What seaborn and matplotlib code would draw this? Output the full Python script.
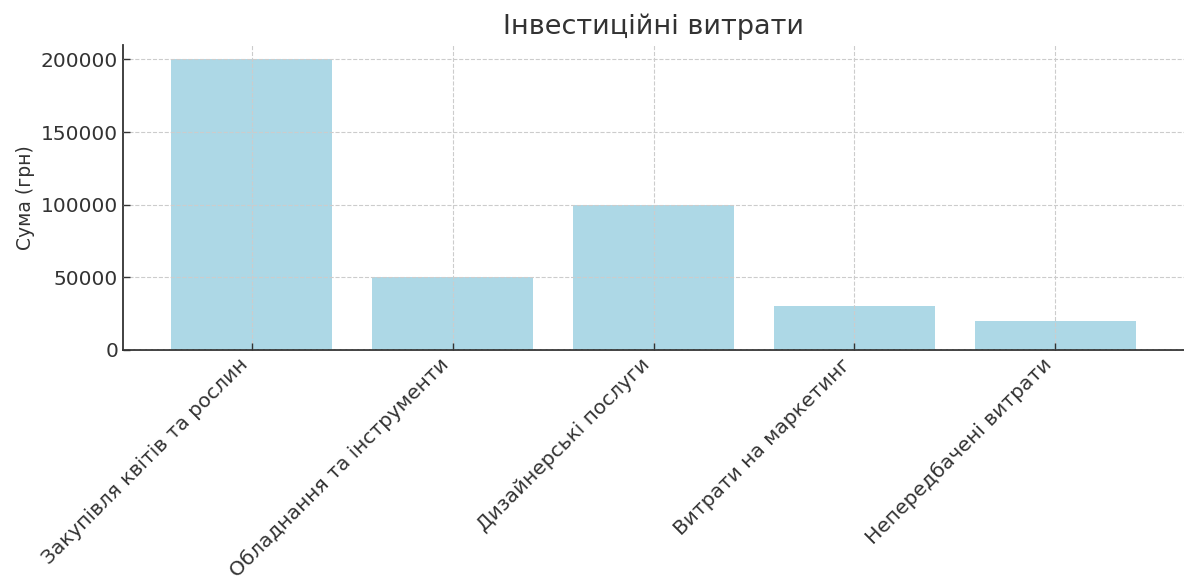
import matplotlib
matplotlib.use("Agg")
import matplotlib.pyplot as plt
import seaborn as sns
import pandas as pd

# Data
categories = [
    "Закупівля квітів та рослин",
    "Обладнання та інструменти",
    "Дизайнерські послуги",
    "Витрати на маркетинг",
    "Непередбачені витрати",
]
amounts = [200000, 50000, 100000, 30000, 20000]
y_ticks = [0, 50000, 100000, 150000, 200000]

df = pd.DataFrame({"category": categories, "amount": amounts})

sns.set_style("whitegrid")
plt.rcParams["font.family"] = ["DejaVu Sans"]
text_color = "#333333"

fig = plt.figure(figsize=(11.84, 5.8), dpi=100)
ax = fig.add_axes([0.1039, 0.3966, 0.8961, 0.5259])

sns.barplot(data=df, x="category", y="amount", color="#ADD8E6", saturation=1,
            width=0.8, edgecolor="none", ax=ax)

ax.set_xlim(-0.64, 4.64)
ax.set_ylim(0, 210000)
ax.set_yticks(y_ticks)

# grid on top of the bars, dashed
ax.set_axisbelow(False)
ax.grid(True, linestyle="--", color="#cccccc", linewidth=0.8)

sns.despine(ax=ax)
for side in ["left", "bottom"]:
    ax.spines[side].set_color(text_color)
    ax.spines[side].set_linewidth(1.3)

ax.tick_params(axis="both", direction="in", length=5, width=1.0,
               colors=text_color, labelsize=14.5, labelcolor=text_color,
               bottom=True, left=True)
plt.setp(ax.get_xticklabels(), rotation=45, ha="right")

ax.set_title("Інвестиційні витрати", fontsize=19.5, color=text_color, pad=8)
ax.set_xlabel("")
ax.set_ylabel("Сума (грн)", fontsize=13.5, color=text_color)

fig.savefig("out.png", dpi=100)
